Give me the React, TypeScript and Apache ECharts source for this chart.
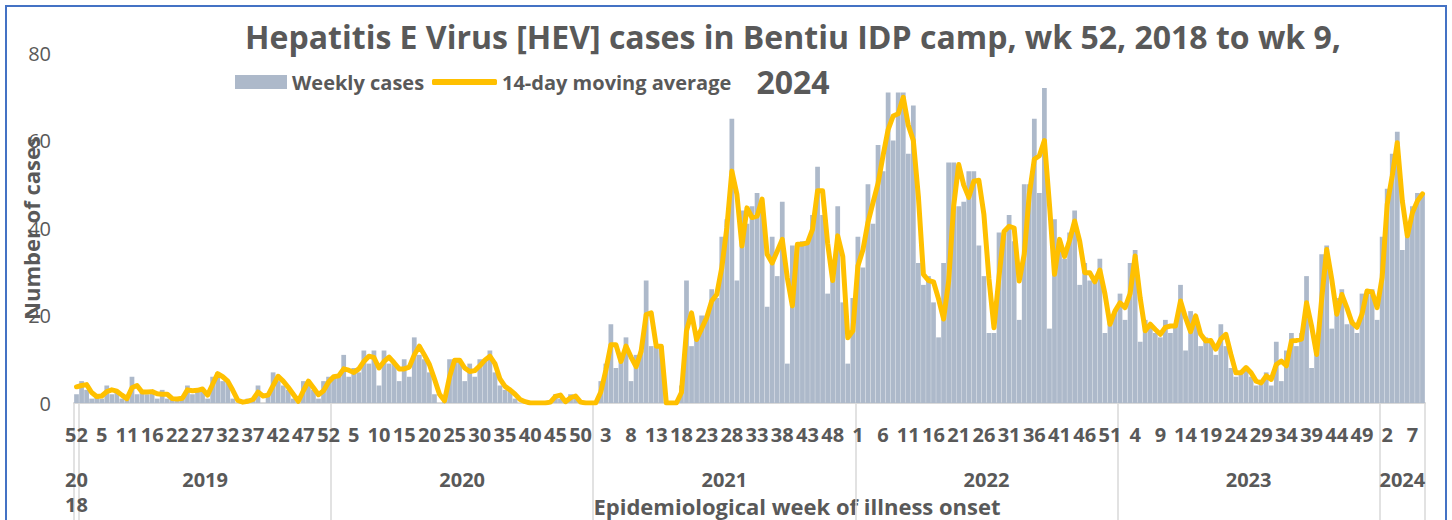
import React, { useEffect, useRef } from "react";
import * as echarts from "echarts";

// ---------- categories (epidemiological weeks) ----------
const range = (a: number, b: number) => {
  const r: number[] = [];
  for (let i = a; i <= b; i++) r.push(i);
  return r;
};
const weeks2018 = [52];
const weeks2019 = [1, 2, 3, 4, 5, 6, 7, 9, 10, 11, 12, 13, 14, 15, 16, 17, 18, 20, 21, 22, 23, 24, 25, 26, 27, 28, 29, 30, 31, 32, 33, 34, 35, 36, 37, 38, 39, 40, 41, 42, 43, 44, 45, 46, 47, 48, 49, 50, 51, 52];
const weeks2020 = range(1, 52);
const weeks2021 = range(1, 52);
const weeks2022 = range(1, 52);
const weeks2023 = range(1, 52);
const weeks2024 = range(1, 9);

const yearNames = ["2018", "2019", "2020", "2021", "2022", "2023", "2024"];
const yearLabels = ["{a|20}\n{b|18}", "2019", "2020", "2021", "2022", "2023", "2024"];
const weeksByYear = [weeks2018, weeks2019, weeks2020, weeks2021, weeks2022, weeks2023, weeks2024];

// ---------- weekly cases ----------
const cases2018 = [2];
const cases2019 = [5, 3, 1, 2, 1, 4, 2, 3, 1, 1, 6, 2, 3, 2, 3, 1, 3, 1, 1, 1, 1, 4, 2, 3, 3, 1, 6, 7, 5, 5, 1, 0, 0, 1, 1, 4, 0, 2, 7, 5, 4, 3, 1, 0, 5, 4, 3, 1, 5, 6];
const cases2020 = [6, 6, 11, 6, 8, 7, 12, 9, 12, 4, 12, 9, 9, 5, 10, 6, 15, 11, 10, 7, 2, 0, 1, 10, 10, 10, 5, 9, 6, 10, 10, 12, 7, 4, 3, 3, 1, 0, 0, 0, 0, 0, 0, 0, 2, 1, 0, 2, 1, 0, 0, 0];
const cases2021 = [0, 5, 9, 18, 8, 10, 15, 5, 11, 12, 28, 13, 13, 13, 0, 0, 0, 4, 28, 13, 16, 20, 20, 26, 24, 38, 42, 65, 28, 44, 41, 45, 48, 45, 22, 38, 29, 46, 9, 36, 36, 37, 37, 43, 54, 43, 25, 31, 45, 23, 9, 24];
const cases2022 = [38, 31, 50, 41, 59, 53, 71, 60, 71, 71, 57, 68, 32, 27, 29, 23, 15, 32, 55, 55, 45, 46, 53, 53, 36, 29, 16, 16, 39, 39, 43, 37, 19, 50, 50, 65, 48, 72, 17, 42, 36, 33, 39, 44, 27, 32, 28, 28, 33, 16, 20, 21];
const cases2023 = [25, 19, 32, 35, 14, 19, 18, 16, 15, 19, 16, 18, 27, 12, 21, 20, 13, 15, 14, 11, 18, 13, 8, 6, 7, 8, 6, 4, 5, 7, 4, 14, 5, 12, 16, 13, 16, 29, 8, 14, 34, 36, 17, 24, 26, 18, 19, 16, 25, 25, 26, 19];
const cases2024 = [38, 49, 57, 62, 35, 41, 45, 48, 48];

// ---------- 14-day moving average ----------
const avg2018 = [3.7];
const avg2019 = [4.0, 4.2, 2.4, 1.5, 1.6, 2.6, 3.0, 2.7, 1.8, 1.0, 3.5, 4.0, 2.5, 2.5, 2.6, 2.1, 2.0, 2.0, 1.0, 0.9, 1.1, 3.0, 2.8, 2.9, 3.2, 1.8, 4.3, 6.7, 6.0, 5.0, 2.9, 0.6, 0.2, 0.4, 0.8, 2.5, 1.6, 1.8, 4.0, 6.1, 5.0, 3.6, 2.0, 0.4, 2.8, 5.0, 3.5, 1.9, 2.8, 4.8];
const avg2020 = [6.0, 6.2, 7.8, 7.5, 7.0, 7.8, 9.5, 10.7, 10.4, 8.0, 9.5, 10.5, 9.2, 7.8, 7.8, 8.2, 11.0, 13.0, 11.0, 8.8, 5.5, 2.0, 0.5, 6.0, 9.8, 9.8, 8.0, 7.2, 7.4, 8.5, 9.8, 10.7, 9.0, 5.5, 3.8, 3.0, 2.0, 0.8, 0.3, 0, 0, 0, 0, 0.2, 1.5, 1.8, 0.3, 1.2, 1.6, 0.2, 0, 0];
const avg2021 = [0, 2.5, 7.5, 13.3, 13.3, 9.5, 13.0, 10.5, 8.3, 11.8, 20.2, 20.6, 13.0, 13.0, 0, 0, 0, 2.4, 16.5, 20.6, 14.5, 17.0, 19.5, 23.3, 24.8, 30.9, 40.0, 53.0, 47.7, 35.9, 44.6, 42.4, 42.7, 46.6, 34.0, 32.0, 34.7, 37.4, 28.6, 22.2, 36.3, 36.3, 36.6, 39.7, 48.5, 48.5, 36.5, 28.0, 38.2, 33.5, 14.9, 16.5];
const avg2022 = [31.3, 35.0, 41.3, 45.8, 50.2, 56.6, 62.5, 65.6, 66.1, 69.9, 63.5, 60.0, 47.2, 29.4, 28.0, 27.7, 23.8, 19.2, 27.8, 45.0, 54.5, 49.8, 47.0, 50.7, 50.9, 43.1, 28.4, 17.2, 29.0, 39.2, 40.4, 40.0, 27.9, 34.0, 47.7, 55.7, 56.5, 60.0, 45.4, 29.4, 37.4, 33.5, 37.2, 41.6, 37.0, 29.8, 29.8, 27.7, 30.4, 25.0, 18.0, 21.0];
const avg2023 = [22.9, 21.8, 25.0, 33.6, 24.0, 16.5, 18.0, 16.8, 15.7, 17.3, 17.6, 17.6, 23.3, 19.5, 16.3, 19.9, 15.7, 14.2, 14.3, 12.3, 14.6, 15.7, 11.1, 6.9, 6.9, 8.1, 6.9, 5.0, 4.6, 6.2, 5.4, 8.8, 9.6, 8.5, 14.2, 14.3, 14.6, 22.9, 17.6, 11.1, 23.7, 35.1, 28.3, 20.3, 24.8, 21.8, 18.4, 17.3, 20.3, 25.6, 25.4, 21.8];
const avg2024 = [28.7, 45.4, 51.9, 59.5, 46.2, 38.2, 43.5, 46.2, 47.8];

const yAxisTicks = { min: 0, max: 80, interval: 20 };

// ---------- derived tables ----------
const categories: string[] = [];
const yearStarts: number[] = [];
const yearLabelAt = new Map<number, string>();
weeksByYear.forEach((wks, yi) => {
  const start = categories.length;
  yearStarts.push(start);
  wks.forEach((w) => categories.push(yearNames[yi] + "-" + w));
  const n = wks.length;
  if (n === 1) yearLabelAt.set(start, yearLabels[yi]);
  else if (n % 2 === 0) yearLabelAt.set(start + n / 2, "{e|" + yearLabels[yi] + "}");
  else yearLabelAt.set(start + (n - 1) / 2, yearLabels[yi]);
});
const yearStartSet = new Set(yearStarts);
const cases = [...cases2018, ...cases2019, ...cases2020, ...cases2021, ...cases2022, ...cases2023, ...cases2024];
const avg = [...avg2018, ...avg2019, ...avg2020, ...avg2021, ...avg2022, ...avg2023, ...avg2024];

const FONT = "'Open Sans', 'DejaVu Sans', sans-serif";
const TXT = "#595959";
const yearText = { fontFamily: FONT, fontWeight: "bold", fontSize: 20, color: TXT };

export default function App() {
  const ref = useRef<HTMLDivElement>(null);
  useEffect(() => {
    if (!ref.current) return;
    const chart = echarts.init(ref.current, undefined, { renderer: "svg" });
    chart.setOption({
      animation: false,
      backgroundColor: "#ffffff",
      title: {
        text: "Hepatitis E Virus [HEV] cases in Bentiu IDP camp, wk 52, 2018 to wk 9,\n2024",
        left: 793,
        top: 14,
        padding: 0,
        textAlign: "center",
        textStyle: { fontFamily: FONT, fontWeight: "bold", fontSize: 32, color: TXT, lineHeight: 45 },
      },
      legend: [
        {
          data: ["Weekly cases"],
          left: 235,
          top: 72,
          padding: 0,
          itemWidth: 52,
          itemHeight: 14,
          icon: "rect",
          selectedMode: false,
          textStyle: { fontFamily: FONT, fontWeight: "bold", fontSize: 20, color: TXT },
        },
        {
          data: [{ name: "14-day moving average", icon: "roundRect" }],
          left: 432,
          top: 72,
          padding: 0,
          itemWidth: 65,
          itemHeight: 6,
          selectedMode: false,
          textStyle: { fontFamily: FONT, fontWeight: "bold", fontSize: 20, color: TXT },
        },
      ],
      grid: { left: 74, right: 27, top: 53, bottom: 117, containLabel: false, outerBoundsMode: "none" },
      xAxis: [
        {
          type: "category",
          data: categories,
          position: "bottom",
          boundaryGap: true,
          axisLine: { show: true, lineStyle: { color: "#d9d9d9", width: 2 } },
          axisTick: {
            show: true,
            length: 125,
            interval: (i: number) => yearStartSet.has(i),
            lineStyle: { color: "#d9d9d9", width: 1.5 },
          },
          axisLabel: {
            interval: 4,
            margin: 21,
            formatter: (v: string) => v.split("-")[1],
            fontFamily: FONT,
            fontWeight: "bold",
            fontSize: 20,
            color: TXT,
          },
          splitLine: { show: false },
        },
        {
          type: "category",
          data: categories,
          position: "bottom",
          offset: 0,
          axisLine: { show: false },
          axisTick: { show: false },
          splitLine: { show: false },
          axisLabel: {
            interval: (i: number) => yearLabelAt.has(i),
            formatter: (_v: string, i: number) => yearLabelAt.get(i) || "",
            margin: 66,
            lineHeight: 20,
            ...yearText,
            rich: {
              e: { ...yearText, padding: [0, 5, 0, 0], lineHeight: 20 },
              a: { ...yearText, lineHeight: 20 },
              b: { ...yearText, lineHeight: 30 },
            },
          },
          name: "Epidemiological week of illness onset",
          nameLocation: "middle",
          nameGap: 92,
          nameMoveOverlap: false,
          nameTextStyle: { fontFamily: FONT, fontWeight: "bold", fontSize: 22, color: TXT, lineHeight: 22, padding: [0, 0, 0, 95] },
        },
      ],
      yAxis: {
        type: "value",
        min: yAxisTicks.min,
        max: yAxisTicks.max,
        interval: yAxisTicks.interval,
        splitLine: { show: false },
        axisLine: { show: false },
        axisTick: { show: false },
        axisLabel: { margin: 23, fontFamily: FONT, fontSize: 20, color: TXT },
        name: "Number of cases",
        nameLocation: "middle",
        nameGap: 32,
        nameRotate: 90,
        nameMoveOverlap: false,
        nameTextStyle: { fontFamily: FONT, fontWeight: "bold", fontSize: 22, color: TXT },
      },
      series: [
        {
          type: "bar",
          name: "Weekly cases",
          data: cases,
          xAxisIndex: 0,
          barCategoryGap: "6%",
          itemStyle: { color: "#adb9ca" },
          z: 2,
        },
        {
          type: "line",
          name: "14-day moving average",
          data: avg,
          xAxisIndex: 0,
          symbol: "none",
          showSymbol: false,
          lineStyle: { color: "#ffc000", width: 5, cap: "round", join: "round" },
          itemStyle: { color: "#ffc000" },
          z: 3,
        },
      ],
      graphic: [
        {
          type: "rect",
          silent: true,
          shape: { x: 6, y: 6, width: 1440, height: 540 },
          style: { fill: "none", stroke: "#4472c4", lineWidth: 2 },
          z: 10,
        },
      ],
    });
    return () => chart.dispose();
  }, []);
  return (
    <div
      ref={ref}
      style={{ position: "fixed", left: 0, top: 0, width: 1452, height: 520 }}
    />
  );
}
